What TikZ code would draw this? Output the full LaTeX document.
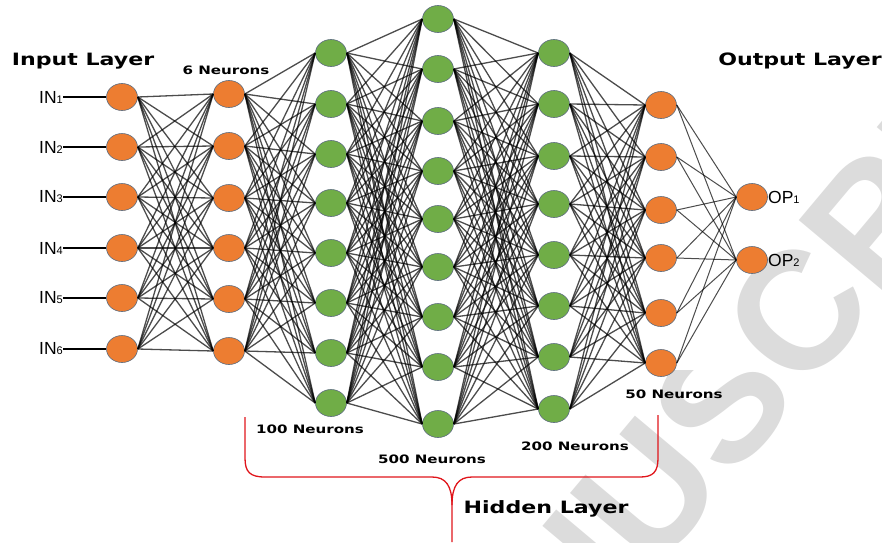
\documentclass[tikz,border=0pt]{standalone}
\usepackage{fontspec}
\usetikzlibrary{shapes.geometric}
\newfontfamily\lab{Liberation Sans}
\newfontfamily\blk[FakeStretch=1.3]{DejaVu Sans}
\newfontfamily\wmk{Liberation Sans}
\definecolor{nodeor}{HTML}{ED7D31}
\definecolor{nodegr}{HTML}{70AD47}
\definecolor{nodeedge}{HTML}{5B6B7E}
\definecolor{wm}{HTML}{DCDCDC}
\definecolor{bracered}{HTML}{E0151B}
\begin{document}
\begin{tikzpicture}[x=1pt,y=-1pt,
  neuron/.style={ellipse, draw=nodeedge, line width=0.6pt, minimum width=31pt, minimum height=27pt, inner sep=0pt},
  orn/.style={neuron, fill=nodeor},
  grn/.style={neuron, fill=nodegr},
  link/.style={black, opacity=0.7, line width=1.3pt},
  big/.style={font=\blk\bfseries\fontsize{17}{17}\selectfont, inner sep=0pt, anchor=base},
  small/.style={font=\blk\bfseries\fontsize{11.6}{12}\selectfont, inner sep=0pt, anchor=base},
  io/.style={font=\lab\fontsize{17.5}{17.5}\selectfont, inner sep=0pt, anchor=west},
  panel/.style={fill=white, draw=none},
  bracestyle/.style={draw=bracered, line width=1.3pt, line join=round}
]
\path[use as bounding box] (0,0) rectangle (882,542);
% watermark
\node[rotate=50, text=wm, font=\wmk\bfseries\fontsize{168}{168}\selectfont, inner sep=0pt] (wmark) at (722,402) {MANUSCRIPT};
% white panels
\path[panel] (0,0) rectangle (735,370);
\path[panel] (0,370) rectangle (625,415);
% layers
\foreach \y [count=\i] in {97,147,197,248,298,349} \node[orn] (a\i) at (122,\y) {};
\foreach \y [count=\i] in {94,146,198,248,299,351} \node[orn] (b\i) at (229,\y) {};
\foreach \y [count=\i] in {53,104,154,203,253,303,353,403} \node[grn] (c\i) at (331,\y) {};
\foreach \y [count=\i] in {19,69,121,171,219,267,317,367,424} \node[grn] (d\i) at (438,\y) {};
\foreach \y [count=\i] in {53,104,156,204,255,306,357,409} \node[grn] (e\i) at (554,\y) {};
\foreach \y [count=\i] in {105,157,210,258,313,363} \node[orn] (f\i) at (661,\y) {};
\foreach \y [count=\i] in {197,260} \node[orn] (g\i) at (752,\y) {};
% connections
\foreach \i in {1,...,6} \foreach \j in {1,...,6} \draw[link] (a\i.east) -- (b\j.west);
\foreach \i in {1,...,6} \foreach \j in {1,...,8} \draw[link] (b\i.east) -- (c\j.west);
\foreach \i in {1,...,8} \foreach \j in {1,...,9} \draw[link] (c\i.east) -- (d\j.west);
\foreach \i in {1,...,9} \foreach \j in {1,...,8} \draw[link] (d\i.east) -- (e\j.west);
\foreach \i in {1,...,8} \foreach \j in {1,...,6} \draw[link] (e\i.east) -- (f\j.west);
\foreach \i in {1,...,6} \foreach \j in {1,2} \draw[link, line width=1pt] (f\i.east) -- (g\j.west);
% input labels
\foreach \y [count=\i] in {97,147,197,248,298,349} {
  \node[io] (in\i) at (39,\y) {IN{\fontsize{11}{11}\selectfont\i}};
  \draw[black, line width=1.2pt] (in\i.east) -- (a\i.west);
}
\node[io] (op1) at (768,197) {OP{\fontsize{11}{11}\selectfont 1}};
\node[io] (op2) at (768,260) {OP{\fontsize{11}{11}\selectfont 2}};
% titles
\node[big] (tin) at (83,65) {Input Layer};
\node[big] (tout) at (800,65) {Output Layer};
\node[big] (thid) at (546,513) {Hidden Layer};
\node[small] (n6) at (226,74) {6 Neurons};
\node[small] (n100) at (310,433) {100 Neurons};
\node[small] (n500) at (432,463) {500 Neurons};
\node[small] (n200) at (575,450) {200 Neurons};
\node[small] (n50) at (674,398) {50 Neurons};
% brace
\coordinate (bl) at (245,417);
\coordinate (br) at (658,415);
\coordinate (bm) at (452,542);
\draw[bracestyle] (bl) -- (245,458) .. controls (245,472) and (250,477) .. (265,477) -- (432,477) .. controls (446,477) and (452,486) .. (452,505) -- (bm);
\draw[bracestyle] (br) -- (658,458) .. controls (658,472) and (653,477) .. (640,477) -- (472,477) .. controls (458,477) and (452,486) .. (452,505);
\end{tikzpicture}
\end{document}
